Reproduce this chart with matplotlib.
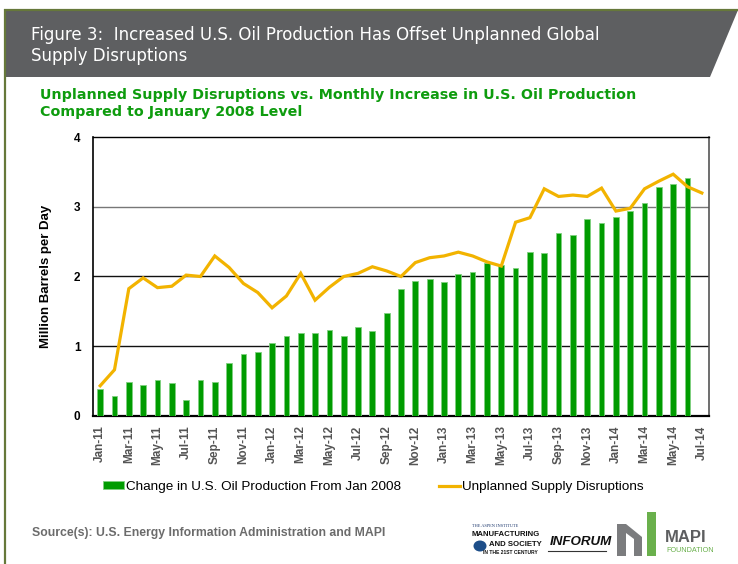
import numpy as np
import matplotlib
matplotlib.use('Agg')
import matplotlib.pyplot as plt
from matplotlib.patches import Polygon, Rectangle, Ellipse

# data, Jan-11 .. Jul-14 (monthly)
production = [0.38, 0.28, 0.49, 0.44, 0.51, 0.47, 0.23, 0.51, 0.48, 0.76, 0.89, 0.915,
              1.04, 1.145, 1.19, 1.19, 1.23, 1.14, 1.27, 1.21, 1.47, 1.825, 1.93, 1.96,
              1.925, 2.03, 2.07, 2.20, 2.165, 2.12, 2.35, 2.34, 2.625, 2.60, 2.83, 2.765,
              2.85, 2.94, 3.05, 3.29, 3.325, 3.415]
disruptions = [0.43, 0.66, 1.825, 1.98, 1.84, 1.86, 2.02, 2.00, 2.295, 2.13, 1.90, 1.77,
               1.55, 1.72, 2.045, 1.66, 1.845, 2.00, 2.045, 2.14, 2.08, 2.00, 2.20, 2.27,
               2.295, 2.35, 2.295, 2.21, 2.15, 2.78, 2.845, 3.26, 3.15, 3.17, 3.15, 3.27,
               2.94, 2.98, 3.26, 3.37, 3.47, 3.29, 3.20]
tick_labels = ['Jan-11', 'Mar-11', 'May-11', 'Jul-11', 'Sep-11', 'Nov-11',
               'Jan-12', 'Mar-12', 'May-12', 'Jul-12', 'Sep-12', 'Nov-12',
               'Jan-13', 'Mar-13', 'May-13', 'Jul-13', 'Sep-13', 'Nov-13',
               'Jan-14', 'Mar-14', 'May-14', 'Jul-14']
y_ticks = [0, 1, 2, 3, 4]

W, H = 738, 564
fig = plt.figure(figsize=[W / 100, H / 100], dpi=100)

# background / decoration layer in pixel coords
bg = fig.add_axes([0, 0, 1, 1], zorder=0)
bg.set_xlim(0, W)
bg.set_ylim(H, 0)
bg.axis('off')

olive = '#66783a'
bg.add_patch(Polygon([(5, 10), (738, 10), (710, 77), (5, 77)], closed=True,
                     facecolor='#5e5f61', edgecolor='none'))
bg.plot([4, 738], [9.5, 9.5], color=olive, lw=1.6, solid_capstyle='butt')
bg.plot([5, 5], [9, H], color=olive, lw=1.6, solid_capstyle='butt')

bg.text(31, 35, 'Figure 3:  Increased U.S. Oil Production Has Offset Unplanned Global',
        color='white', fontsize=12, family='DejaVu Sans', va='center', ha='left')
bg.text(31, 56, 'Supply Disruptions', color='white', fontsize=12,
        family='DejaVu Sans', va='center', ha='left')

green_txt = '#0e9c0e'
bg.text(40, 95, 'Unplanned Supply Disruptions vs. Monthly Increase in U.S. Oil Production',
        color=green_txt, fontsize=10.3, weight='bold', family='DejaVu Sans',
        va='center', ha='left')
bg.text(40, 112, 'Compared to January 2008 Level', color=green_txt, fontsize=10.3,
        weight='bold', family='DejaVu Sans', va='center', ha='left')

bg.text(32, 533, 'Source(s): U.S. Energy Information Administration and MAPI',
        color='#6b6b6b', fontsize=8.8, weight='bold', family='Liberation Sans',
        va='center', ha='left')

# logos (rough)
bg.text(472, 526, 'THE ASPEN INSTITUTE', fontsize=3.2, color='#1f3a6e',
        family='Liberation Serif', va='center', ha='left')
bg.text(472, 535, 'MANUFACTURING', fontsize=5.6, weight='bold', color='#111111',
        family='Liberation Sans', va='center', ha='left')
bg.add_patch(Ellipse((480, 546), 13, 11, facecolor='#1d4e89', edgecolor='none'))
bg.text(489, 544, 'AND SOCIETY', fontsize=5.6, weight='bold', color='#111111',
        family='Liberation Sans', va='center', ha='left')
bg.text(483, 553, 'IN THE 21ST CENTURY', fontsize=3.6, weight='bold', color='#111111',
        family='Liberation Sans', va='center', ha='left')
bg.text(550, 542, 'INFORUM', fontsize=9.6, weight='bold', style='italic', color='#111111',
        family='Liberation Sans', va='center', ha='left')
bg.plot([548, 606], [551, 551], color='#333333', lw=0.8)
bg.add_patch(Rectangle((617, 524), 9, 32, facecolor='#7b7c7e', edgecolor='none'))
bg.add_patch(Polygon([(626, 524), (642, 537), (642, 545), (626, 533)], closed=True,
                     facecolor='#7b7c7e', edgecolor='none'))
bg.add_patch(Rectangle((634, 537), 8, 19, facecolor='#7b7c7e', edgecolor='none'))
bg.add_patch(Rectangle((647, 512), 9, 44, facecolor='#6ab04c', edgecolor='none'))
bg.text(665, 538, 'MAPI', fontsize=12, weight='bold', color='#5d5e60',
        family='Liberation Sans', va='center', ha='left')
bg.text(666, 551, 'FOUNDATION', fontsize=5.2, color='#6ab04c',
        family='Liberation Sans', va='center', ha='left')

# main chart
ax = fig.add_axes([93 / W, 1 - 415.7 / H, 616 / W, (415.7 - 137.3) / H], zorder=2)
x_bar = np.arange(len(production))
x_line = np.arange(len(disruptions))

bars = ax.bar(x_bar, production, width=0.4, color='#009c00', edgecolor='#7fd07f',
              linewidth=0.6, zorder=3, label='Change in U.S. Oil Production From Jan 2008')
line, = ax.plot(x_line, disruptions, color='#f2b300', lw=2.3, zorder=4,
                solid_joinstyle='miter', label='Unplanned Supply Disruptions')

ax.set_xlim(-0.5, len(disruptions) - 0.5)
ax.set_ylim(0, 4)
ax.set_yticks(y_ticks)
ax.set_yticklabels([str(v) for v in y_ticks], fontsize=8.5, weight='bold',
                   family='Liberation Sans')
ax.set_xticks(np.arange(0, len(disruptions), 2))
ax.set_xticklabels(tick_labels, rotation=90, fontsize=8.5, weight='bold',
                   family='Liberation Sans', color='#555555')
ax.tick_params(axis='both', length=0)
ax.tick_params(axis='y', pad=9)
ax.tick_params(axis='x', pad=7)

for v, c in [(1, '#111111'), (2, '#111111'), (3, '#777777')]:
    ax.axhline(v, color=c, lw=1.0, zorder=2)

ax.spines['left'].set_linewidth(1.2)
ax.spines['bottom'].set_linewidth(1.6)
ax.spines['top'].set_linewidth(1.0)
ax.spines['right'].set_color('#555555')
ax.spines['right'].set_linewidth(1.2)

ax.set_ylabel('Million Barrels per Day', fontsize=9.5, weight='bold',
              family='Liberation Sans', labelpad=16)

fig.legend(handles=[bars, line], loc='center left',
           bbox_to_anchor=(103 / W, 1 - 487 / H), ncol=2, frameon=False,
           prop={'family': 'Liberation Sans', 'size': 9.7},
           handlelength=1.55, handleheight=0.55, handletextpad=0.15,
           columnspacing=2.8, borderpad=0, borderaxespad=0)

fig.savefig('out.png', dpi=100)
